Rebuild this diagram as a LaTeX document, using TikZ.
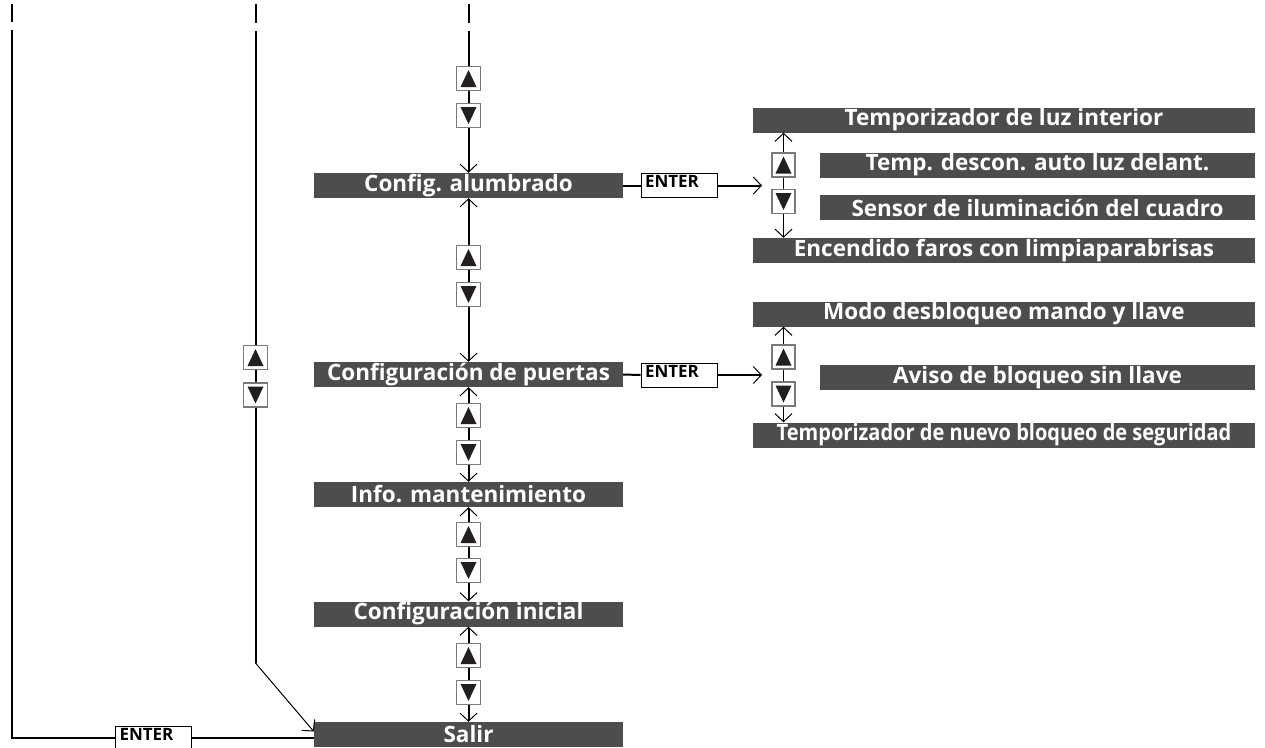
\documentclass[tikz,border=0pt]{standalone}
\usepackage{fontspec}
\setmainfont{Open Sans}
\usepackage{graphicx}
\usetikzlibrary{arrows.meta}

\begin{document}
\begin{tikzpicture}[
    x=1pt, y=-1pt,
    >={Straight Barb[length=8pt, width=17pt, line width=1pt]},
    bar/.style={
        rectangle,
        fill=bar_color,
        text=white,
        font=\fontsize{22.5}{22.5}\selectfont\bfseries,
        minimum width=#1,
        minimum height=25pt,
        inner sep=0pt
    },
    bar/.default=309pt,
    enterbox/.style={
        rectangle,
        draw=black,
        fill=white,
        line width=1pt,
        minimum width=76pt,
        text width=68pt,
        align=left,
        text height=14pt,
        text depth=10pt,
        inner xsep=3pt,
        inner ysep=0pt,
        font=\fontsize{17}{17}\selectfont\bfseries
    },
    key/.style={
        rectangle,
        draw=key_color,
        fill=white,
        line width=1.2pt,
        minimum width=#1,
        minimum height=24pt,
        inner sep=0pt
    },
    key/.default=24pt,
    keyup/.style={
        key=#1,
        path picture={
            \fill[tri_color] ([yshift=8.5pt]path picture bounding box.center)
                -- ([shift={(-8pt,-8.5pt)}]path picture bounding box.center)
                -- ([shift={(8pt,-8.5pt)}]path picture bounding box.center) -- cycle;
        }
    },
    keyup/.default=24pt,
    keydown/.style={
        key=#1,
        path picture={
            \fill[tri_color] ([yshift=-8.5pt]path picture bounding box.center)
                -- ([shift={(-8pt,8.5pt)}]path picture bounding box.center)
                -- ([shift={(8pt,8.5pt)}]path picture bounding box.center) -- cycle;
        }
    },
    keydown/.default=24pt,
    main/.style={line width=2pt},
    thin/.style={line width=1pt}
]

% Colors
\definecolor{bar_color}{HTML}{4D4D4D}
\definecolor{key_color}{HTML}{7A7A7A}
\definecolor{tri_color}{HTML}{231F20}

\useasboundingbox (0,0) rectangle (1265,747);

% Main menu
\node[bar] (alumbrado) at (468.5,185.5) {Config. alumbrado};
\node[bar] (puertas) at (468.5,374.5) {Configuración de puertas};
\node[bar] (info) at (468.5,494.5) {Info. mantenimiento};
\node[bar] (inicial) at (468.5,614) {Configuración inicial};
\node[bar] (salir) at (468.5,734.5) {Salir};

% Keys of the main column
\node[keyup] (k1u) at (468.5,78.5) {};
\node[keydown] (k1d) at (468.5,115.5) {};
\node[keyup] (k2u) at (468.5,257.5) {};
\node[keydown] (k2d) at (468.5,294.5) {};
\node[keyup] (k3u) at (468.5,415.5) {};
\node[keydown] (k3d) at (468.5,452.5) {};
\node[keyup] (k4u) at (468.5,534.5) {};
\node[keydown] (k4d) at (468.5,570.5) {};
\node[keyup] (k5u) at (468.5,655.5) {};
\node[keydown] (k5d) at (468.5,692.5) {};

% Keys of the left column
\node[keyup] (lu) at (255.5,357.5) {};
\node[keydown] (ld) at (255.5,395) {};

% ENTER keys
\node[enterbox] (enter1) at (679,185.5) {ENTER};
\node[enterbox] (enter2) at (679,375) {ENTER};
\node[enterbox] (enter3) at (153.5,738) {ENTER};

% Lighting submenu
\node[bar=502pt] (luz1) at (1004,120) {Temporizador de luz interior};
\node[bar=435pt] (luz2) at (1037.5,165) {Temp. descon. auto luz delant.};
\node[bar=435pt] (luz3) at (1037.5,207.5) {Sensor de iluminación del cuadro};
\node[bar=502pt] (luz4) at (1004,250.5) {Encendido faros con limpiaparabrisas};
\node[keyup=23pt] (g1u) at (783.5,165) {};
\node[keydown=23pt] (g1d) at (783.5,201.5) {};

% Door submenu
\node[bar=502pt] (puerta1) at (1004,314) {Modo desbloqueo mando y llave};
\node[bar=435pt] (puerta2) at (1037.5,377.5) {Aviso de bloqueo sin llave};
\node[bar=502pt] (puerta3) at (1004,435) {\scalebox{0.89}[1]{Temporizador de nuevo bloqueo de seguridad}};
\node[keyup=23pt] (g2u) at (783.5,357) {};
\node[keydown=23pt] (g2d) at (783.5,394) {};

% Cut ends at the top
\coordinate (cutA) at (12,4);
\coordinate (cutB) at (255.5,4);
\coordinate (cutC) at (468.5,4);
\coordinate (outA) at (12,30);
\coordinate (outB) at (255.5,31);
\coordinate (outC) at (468.5,31);
\draw[main] (cutA) -- ++(0,18);
\draw[main] (cutB) -- ++(0,19);
\draw[main] (cutC) -- ++(0,19);

% Main column arrows
\draw[main] (outC) -- (k1u.north);
\draw[main] (k1u.south) -- (k1d.north);
\draw[main, ->] (k1d.south) -- (alumbrado.north);
\draw[main, ->] (k2u.north) -- (alumbrado.south);
\draw[main] (k2u.south) -- (k2d.north);
\draw[main, ->] (k2d.south) -- (puertas.north);
\draw[main, ->] (k3u.north) -- (puertas.south);
\draw[main] (k3u.south) -- (k3d.north);
\draw[main, ->] (k3d.south) -- (info.north);
\draw[main, ->] (k4u.north) -- (info.south);
\draw[main] (k4u.south) -- (k4d.north);
\draw[main, ->] (k4d.south) -- (inicial.north);
\draw[main, ->] (k5u.north) -- (inicial.south);
\draw[main] (k5u.south) -- (k5d.north);
\draw[main, ->] (k5d.south) -- (salir.north);

% ENTER into the submenus
\coordinate (in1) at (762,185.5);
\coordinate (in2) at (762,375);
\draw[main] (alumbrado.east) -- (enter1.west);
\draw[main, ->] (enter1.east) -- (in1);
\draw[main] (puertas.east) -- (enter2.west);
\draw[main, ->] (enter2.east) -- (in2);

% Submenu arrows
\draw[thin, ->] (g1u.north) -- (g1u.north |- luz1.south);
\draw[thin] (g1u.south) -- (g1d.north);
\draw[thin, ->] (g1d.south) -- (g1d.south |- luz4.north);
\draw[thin, ->] (g2u.north) -- (g2u.north |- puerta1.south);
\draw[thin] (g2u.south) -- (g2d.north);
\draw[thin, ->] (g2d.south) -- (g2d.south |- puerta3.north);

% Outer paths to Salir
\coordinate (bend) at (255.5,663);
\draw[main] (outA) -- (outA |- enter3) -- (enter3.west);
\draw[main] (enter3.east) -- (enter3.east -| salir.west);
\draw[main] (outB) -- (lu.north);
\draw[main] (lu.south) -- (ld.north);
\draw[main] (ld.south) -- (bend);
\draw[thin, ->] (bend) -- ([yshift=3pt]salir.west);

\end{tikzpicture}
\end{document}
